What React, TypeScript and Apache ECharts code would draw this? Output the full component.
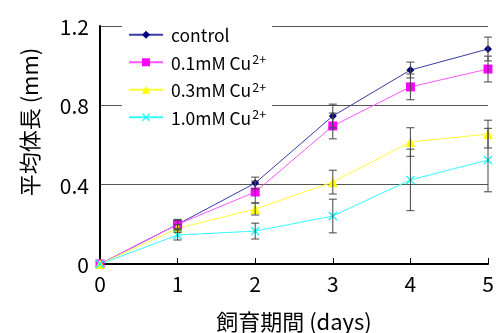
import React, { useEffect, useRef } from "react";
import * as echarts from "echarts";

const days = [0, 1, 2, 3, 4, 5];
const seriesNames = ["control", "0.1mM Cu2+", "0.3mM Cu2+", "1.0mM Cu2+"];
const controlMean = [0, 0.2, 0.408, 0.746, 0.978, 1.084];
const controlErr = [0, 0.025, 0.03, 0.06, 0.04, 0.06];
const cu01Mean = [0, 0.2, 0.363, 0.696, 0.893, 0.983];
const cu01Err = [0, 0.02, 0.055, 0.065, 0.065, 0.065];
const cu03Mean = [0, 0.18, 0.277, 0.413, 0.615, 0.655];
const cu03Err = [0, 0.02, 0.03, 0.06, 0.072, 0.07];
const cu10Mean = [0, 0.146, 0.166, 0.242, 0.424, 0.524];
const cu10Err = [0, 0.025, 0.04, 0.085, 0.155, 0.16];
const yTicks = [0, 0.4, 0.8, 1.2];
const xTitle = "飼育期間 (days)";
const yTitle = "平均体長 (mm)";

const FONT = "'Noto Sans CJK JP', 'Noto Sans', sans-serif";

export default function App() {
  const ref = useRef<HTMLDivElement>(null);
  useEffect(() => {
    if (!ref.current) return;
    const chart = echarts.init(ref.current, null, { renderer: "svg" });
    const means = [controlMean, cu01Mean, cu03Mean, cu10Mean];
    const errs = [controlErr, cu01Err, cu03Err, cu10Err];
    const colors = ["#000080", "#FF00FF", "#FFFF00", "#00FFFF"];
    const lineColors = ["#3a3aa8", "#FF55FF", "#FFFF33", "#33FFFF"];
    const symbols = [
      "diamond",
      "rect",
      "triangle",
      "path://M0,1L1,0L5,4L9,0L10,1L6,5L10,9L9,10L5,6L1,10L0,9L4,5Z",
    ];
    const symbolSizes = [8, 9, 10, 9];

    const lineSeries: any[] = means.map((m, i) => ({
      name: seriesNames[i],
      type: "line",
      data: days.map((d, j) => [d, m[j]]),
      symbol: symbols[i],
      symbolSize: symbolSizes[i],
      lineStyle: { color: lineColors[i], width: 1 },
      itemStyle: { color: colors[i] },
      z: 3,
    }));

    const errSeries: any[] = means.map((m, i) => ({
      name: seriesNames[i] + "-err",
      type: "custom",
      data: days
        .map((d, j) => [d, m[j] - errs[i][j], m[j] + errs[i][j]])
        .filter((r) => r[2] - r[1] > 0),
      renderItem: (params: any, api: any) => {
        const x = api.value(0);
        const lo = api.coord([x, api.value(1)]);
        const hi = api.coord([x, api.value(2)]);
        const w = 4;
        const style = { stroke: "#444", lineWidth: 1 };
        return {
          type: "group",
          children: [
            { type: "line", shape: { x1: lo[0], y1: lo[1], x2: hi[0], y2: hi[1] }, style },
            { type: "line", shape: { x1: lo[0] - w, y1: lo[1], x2: lo[0] + w, y2: lo[1] }, style },
            { type: "line", shape: { x1: hi[0] - w, y1: hi[1], x2: hi[0] + w, y2: hi[1] }, style },
          ],
        };
      },
      z: 4,
      silent: true,
    }));

    chart.setOption({
      animation: false,
      textStyle: { fontFamily: FONT },
      grid: {
        left: 100,
        right: 8,
        top: 26,
        bottom: 69,
        containLabel: false,
        outerBoundsMode: "none",
      },
      graphic: [
        {
          type: "text",
          x: 28,
          y: 122,
          rotation: Math.PI / 2,
          style: {
            text: yTitle,
            fontSize: 22,
            fontFamily: FONT,
            fill: "#000",
            textAlign: "center",
            textVerticalAlign: "middle",
          },
        },
      ],
      legend: {
        data: seriesNames,
        orient: "vertical",
        left: 122,
        top: 22,
        backgroundColor: "#fff",
        padding: [4, 6, 6, 6],
        itemWidth: 34,
        itemHeight: 10,
        itemGap: 9,
        textStyle: {
          fontFamily: FONT,
          fontSize: 17.5,
          color: "#000",
          padding: [0, 0, 0, 3],
          rich: {
            sup: { fontSize: 12.5, color: "#000", padding: [0, 0, 7, 1], fontFamily: FONT },
          },
        },
        formatter: (name: string) =>
          name.endsWith("Cu2+") ? name.replace("Cu2+", "Cu{sup|2+}") : name,
      },
      xAxis: {
        type: "value",
        min: 0,
        max: 5,
        interval: 1,
        name: xTitle,
        nameLocation: "middle",
        nameGap: 45,
        nameTextStyle: { fontSize: 22, color: "#000", fontFamily: FONT },
        axisLine: { lineStyle: { color: "#000", width: 2 } },
        axisTick: { inside: true, length: 6, lineStyle: { color: "#000", width: 1 } },
        axisLabel: { fontSize: 21, color: "#000", margin: 8, fontFamily: FONT },
        splitLine: { show: false },
      },
      yAxis: {
        type: "value",
        min: 0,
        max: 1.2,
        interval: 0.4,
        axisLine: { show: true, lineStyle: { color: "#000", width: 2 } },
        axisTick: { show: false },
        axisLabel: {
          fontSize: 21,
          color: "#000",
          margin: 11,
          fontFamily: FONT,
          formatter: (v: number) => {
            const t = yTicks.find((y) => Math.abs(y - v) < 1e-6);
            return t === undefined ? "" : t === 0 ? "0" : t.toFixed(1);
          },
        },
        splitLine: { show: true, lineStyle: { color: "#555", width: 1 } },
      },
      series: [...lineSeries, ...errSeries],
    });
    return () => chart.dispose();
  }, []);
  return (
    <div
      ref={ref}
      style={{ position: "fixed", left: 0, top: 0, width: 496, height: 333 }}
    />
  );
}
